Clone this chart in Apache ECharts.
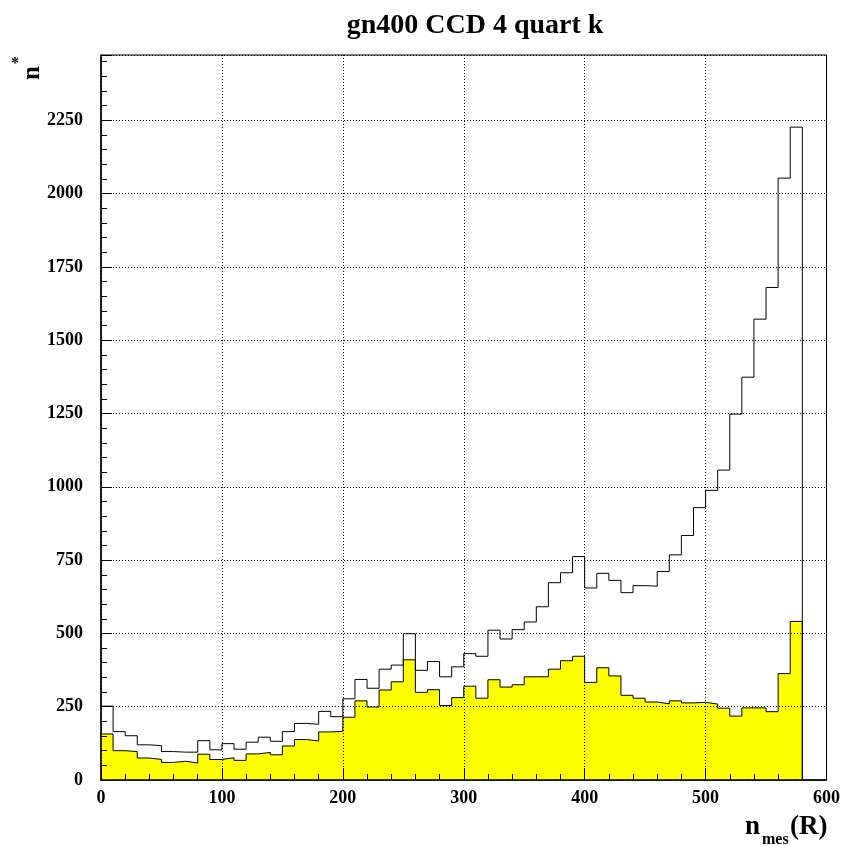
<!DOCTYPE html>
<html><head><meta charset="utf-8">
<script src="https://cdn.jsdelivr.net/npm/echarts@6/dist/echarts.min.js"></script>
<style>html,body{margin:0;padding:0;background:#fff}#c{width:843px;height:846px}</style>
</head><body><div id="c"></div>
<script>
// Histogram: 58 bins of width 10 from 0 to 580
const binWidth = 10;
const totalCounts = [252,165,151,120,117,97,95,95,134,103,124,105,129,146,132,165,193,190,234,216,
  277,343,313,378,392,499,374,404,352,386,431,422,511,481,513,539,591,673,707,762,
  655,705,681,639,663,661,711,768,834,929,988,1057,1248,1374,1572,1680,2053,2227];
const selectedCounts = [157,100,97,75,70,60,64,58,88,70,76,67,89,94,86,116,138,133,164,166,
  214,270,249,307,335,410,299,308,254,281,320,279,342,317,325,352,352,378,407,422,
  333,383,355,289,279,266,260,270,263,265,259,245,218,246,246,233,363,541];
const xTicks = [0,100,200,300,400,500,600];
const yTicks = [0,250,500,750,1000,1250,1500,1750,2000,2250];

function stepData(vals){
  const d = vals.map((v,i)=>[i*binWidth, v]);
  const end = vals.length*binWidth;
  d.push([end, vals[vals.length-1]]);
  d.push([end, 0]);
  return d;
}
const font = '"Liberation Serif","Times New Roman",serif';
const chart = echarts.init(document.getElementById('c'));
chart.setOption({
  animation:false,
  backgroundColor:'#fff',
  title:{text:'gn400 CCD 4 quart k', left:470, textAlign:'center', top:7,
    textStyle:{fontFamily:font, fontWeight:'bold', fontSize:28, color:'#000'}},
  grid:{left:101, right:16, top:55, bottom:66, show:true, borderColor:'#000', borderWidth:1},
  xAxis:{type:'value', min:xTicks[0], max:xTicks[xTicks.length-1], interval:100, z:5,
    axisLine:{lineStyle:{color:'#000', width:1.5}},
    axisTick:{inside:true, length:12, lineStyle:{color:'#000'}},
    minorTick:{show:true, splitNumber:5, length:6, lineStyle:{color:'#000'}},
    axisLabel:{fontFamily:font, fontWeight:'bold', fontSize:18, color:'#000', margin:9,
      formatter:v=>String(v)},
    splitLine:{show:true, lineStyle:{color:'#000', type:[1,2], width:1}}},
  yAxis:{type:'value', min:yTicks[0], max:2473, interval:250, z:5,
    axisLine:{lineStyle:{color:'#000', width:1.5}},
    axisTick:{inside:true, length:11, lineStyle:{color:'#000'}},
    minorTick:{show:true, splitNumber:5, length:6, lineStyle:{color:'#000'}},
    axisLabel:{fontFamily:font, fontWeight:'bold', fontSize:18, color:'#000', margin:18, showMaxLabel:false,
      formatter:v=>String(v)},
    splitLine:{show:true, lineStyle:{color:'#000', type:[1,2], width:1}}},
  graphic:[
    {type:'text', x:20, y:80, rotation:Math.PI/2, style:{text:'n', fontFamily:font, fontWeight:'bold', fontSize:25, fill:'#000'}},
    {type:'text', x:11, y:56, style:{text:'*', fontFamily:font, fontWeight:'bold', fontSize:16, fill:'#000'}},
    {type:'text', x:745, y:814, style:{text:'n', fontFamily:font, fontWeight:'bold', fontSize:27, fill:'#000'}},
    {type:'text', x:762, y:832, style:{text:'mes', fontFamily:font, fontWeight:'bold', fontSize:16, fill:'#000'}},
    {type:'text', x:790, y:814, style:{text:'(R)', fontFamily:font, fontWeight:'bold', fontSize:27, fill:'#000'}}
  ],
  series:[
    {type:'line', step:'end', data:stepData(selectedCounts), symbol:'none', z:2,
      lineStyle:{color:'#000', width:1}, areaStyle:{color:'#ffff00', opacity:1}},
    {type:'line', step:'end', data:stepData(totalCounts), symbol:'none', z:3,
      lineStyle:{color:'#000', width:1}}
  ]
});
</script></body></html>
